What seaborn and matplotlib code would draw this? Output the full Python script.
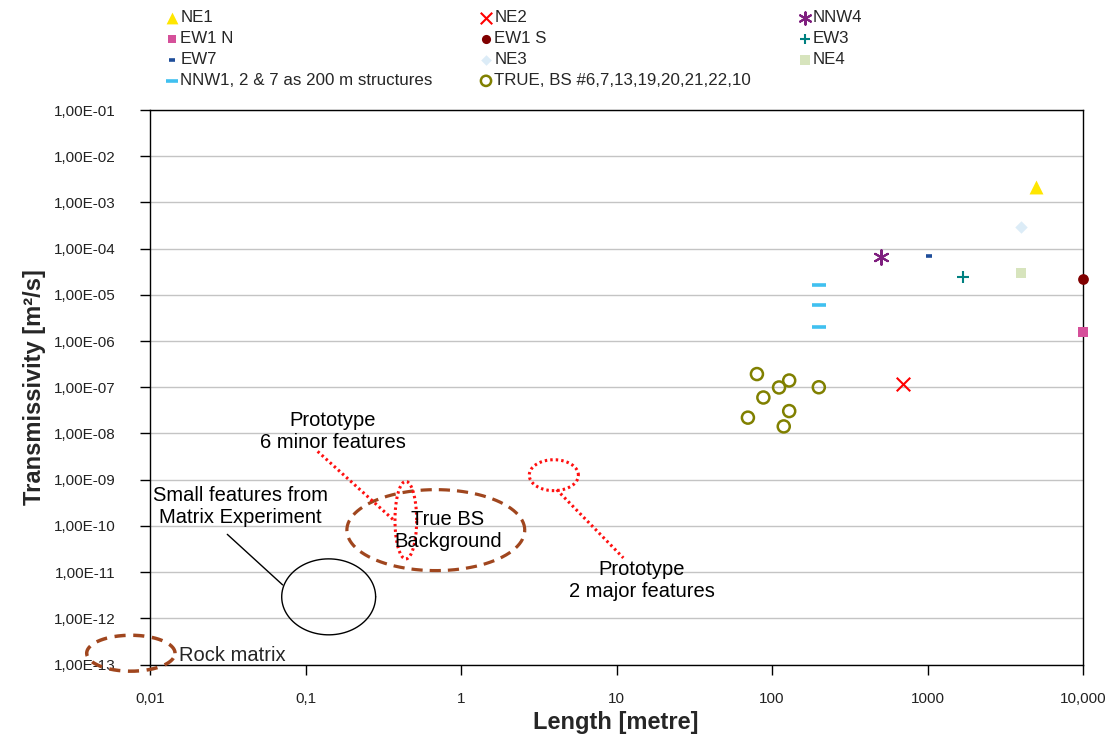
import numpy as np
import pandas as pd
import matplotlib
matplotlib.use("Agg")
import matplotlib.pyplot as plt
import seaborn as sns

# ---- data (length in metres, transmissivity in m2/s) ----
ne1_len = [5000]
ne1_t = [2.2e-3]
ne2_len = [700]
ne2_t = [1.15e-7]
nnw4_len = [500]
nnw4_t = [6.5e-5]
ew1n_len = [10000]
ew1n_t = [1.55e-6]
ew1s_len = [10000]
ew1s_t = [2.25e-5]
ew3_len = [1700]
ew3_t = [2.4e-5]
ew7_len = [1030]
ew7_t = [6.9e-5]
ne3_len = [4000]
ne3_t = [2.9e-4]
ne4_len = [4000]
ne4_t = [3.0e-5]
nnw_len = [200, 200, 200]
nnw_t = [1.6e-5, 6.1e-6, 2.0e-6]
true_len = [80, 129, 111, 200, 88, 129, 70, 119]
true_t = [1.93e-7, 1.4e-7, 9.9e-8, 1.0e-7, 6.0e-8, 3.05e-8, 2.2e-8, 1.42e-8]

x_ticks = [0.01, 0.1, 1, 10, 100, 1000, 10000]
x_tick_labels = ["0,01", "0,1", "1", "10", "100", "1000", "10,000"]
y_ticks = [10.0 ** e for e in range(-13, 0)]
y_tick_labels = ["1,00E-%02d" % -e for e in range(-13, 0)]

sns.set_theme(style="white")
plt.rcParams["font.family"] = ["Liberation Sans", "DejaVu Sans"]

fig = plt.figure(figsize=(11.06, 7.35), dpi=100)
ax = fig.add_axes([150 / 1106, 1 - 664.5 / 735, 933 / 1106, 554.5 / 735])
ax.set_xscale("log")
ax.set_yscale("log")

# name, x, y, marker, color, size, style
series = [
    ("NE1", ne1_len, ne1_t, "^", "#FFE600", 100, "filled"),
    ("EW1 N", ew1n_len, ew1n_t, "s", "#D5509A", 55, "filled"),
    ("EW7", ew7_len, ew7_t, "_", "#1F4E9A", 22, "line"),
    ("NNW1, 2 & 7 as 200 m structures", nnw_len, nnw_t, "_", "#40C0F0", 110, "line"),
    ("NE2", ne2_len, ne2_t, "x", "#FF0000", 95, "line"),
    ("EW1 S", ew1s_len, ew1s_t, "o", "#800000", 60, "filled"),
    ("NE3", ne3_len, ne3_t, "D", "#DCECF7", 40, "filled"),
    ("TRUE, BS #6,7,13,19,20,21,22,10", true_len, true_t, "o", "#808000", 75, "open"),
    ("NNW4", nnw4_len, nnw4_t, (6, 2, 0), "#7F1F7F", 110, "line"),
    ("EW3", ew3_len, ew3_t, "+", "#008080", 70, "line"),
    ("NE4", ne4_len, ne4_t, "s", "#D7E4BD", 60, "filled"),
]

for name, xs, ys, mk, col, size, kind in series:
    df = pd.DataFrame({"length": xs, "trans": ys})
    if kind == "filled":
        sns.scatterplot(data=df, x="length", y="trans", marker=mk, color=col,
                        edgecolor=col, linewidth=0, s=size, label=name,
                        legend=False, clip_on=False, zorder=4, ax=ax)
    elif kind == "open":
        sns.scatterplot(data=df, x="length", y="trans", marker=mk,
                        facecolor="none", edgecolor=col, linewidth=1.8, s=size,
                        label=name, legend=False, clip_on=False, zorder=4, ax=ax)
    else:
        lw = 2.6 if mk == "_" else 1.5
        sns.scatterplot(data=df, x="length", y="trans", marker=mk, color=col,
                        linewidth=lw, s=size, label=name, legend=False,
                        clip_on=False, zorder=4, ax=ax)

ax.set_xlim(0.01, 10000)
ax.set_ylim(1e-13, 1e-1)
ax.set_xticks(x_ticks)
ax.set_xticklabels(x_tick_labels)
ax.set_yticks(y_ticks)
ax.set_yticklabels(y_tick_labels)
ax.minorticks_off()
ax.tick_params(axis="both", direction="out", length=7, width=1, color="black",
               labelsize=11, labelcolor="#222222")
ax.tick_params(axis="y", pad=18, left=True)
ax.tick_params(axis="x", pad=13, bottom=True)
ax.yaxis.grid(True, color="#C4C4C4", lw=1)
ax.xaxis.grid(False)
ax.set_axisbelow(True)
for sp in ax.spines.values():
    sp.set_color("black")
    sp.set_linewidth(1)

ax.set_xlabel("Length [metre]", fontsize=17, fontweight="bold")
ax.set_ylabel("Transmissivity [m²/s]", fontsize=17, fontweight="bold")
ax.xaxis.set_label_coords(0.4995, -0.083)
ax.yaxis.set_label_coords(-0.112, 0.5)


# annotations drawn in log10 space
def log_ellipse(cx, cy, a, b, **kw):
    t = np.linspace(0, 2 * np.pi, 200)
    ax.plot(10 ** (cx + a * np.cos(t)), 10 ** (cy + b * np.sin(t)),
            clip_on=False, zorder=3, **kw)


def log_line(x0, y0, x1, y1, **kw):
    ax.plot([10 ** x0, 10 ** x1], [10 ** y0, 10 ** y1], clip_on=False,
            zorder=3, **kw)


brown = "#A0461E"
red = "#FF1010"
log_ellipse(-2.123, -12.756, 0.284, 0.389, color=brown, lw=2.5,
            ls=(0, (3.2, 2.2)))
log_ellipse(-0.162, -10.092, 0.572, 0.876, color=brown, lw=2.3,
            ls=(0, (3.5, 2.2)))
log_ellipse(-0.851, -11.536, 0.302, 0.822, color="black", lw=1)
log_ellipse(-0.355, -9.876, 0.0697, 0.839, color=red, lw=2.2,
            ls=(0, (0.8, 1.0)))
log_ellipse(0.597, -8.903, 0.158, 0.335, color=red, lw=2.2,
            ls=(0, (0.8, 1.0)))
log_line(-1.503, -10.183, -1.147, -11.277, color="black", lw=1)
log_line(-0.922, -8.388, -0.431, -9.880, color=red, lw=2.2, ls=(0, (0.8, 1.0)))
log_line(0.615, -9.216, 1.044, -10.693, color=red, lw=2.2, ls=(0, (0.8, 1.0)))

txt = dict(fontsize=14.5, color="black", ha="center", va="center", zorder=5)
ax.text(10 ** -0.823, 10 ** -7.962, "Prototype\n6 minor features", **txt)
ax.text(10 ** -1.421, 10 ** -9.584, "Small features from\nMatrix Experiment", **txt)
ax.text(10 ** -0.084, 10 ** -10.103, "True BS\nBackground", **txt)
ax.text(10 ** 1.164, 10 ** -11.184, "Prototype\n2 major features", **txt)
ax.text(10 ** -1.813, 10 ** -12.805, "Rock matrix", fontsize=14.5,
        ha="left", va="center", zorder=5)

handles, labels = ax.get_legend_handles_labels()
fig.legend(handles, labels, ncol=3, loc="upper left",
           bbox_to_anchor=(165 / 1106, 1 - 10 / 735), frameon=False,
           fontsize=12.2, markerscale=0.85, handlelength=0.8,
           handletextpad=0.1, columnspacing=2.75, labelspacing=0.36,
           borderpad=0, borderaxespad=0)

fig.savefig("out.png", dpi=100)
